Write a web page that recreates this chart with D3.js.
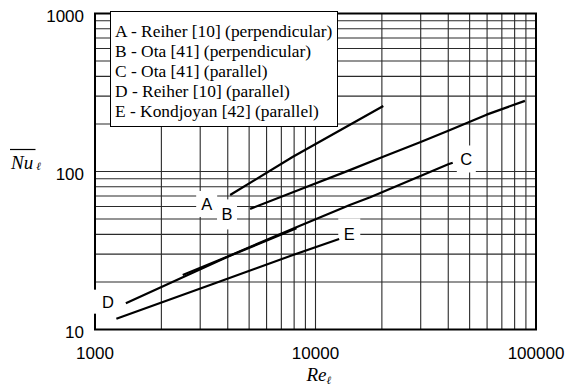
<!DOCTYPE html>
<html>
<head>
<meta charset="utf-8">
<script src="https://cdn.jsdelivr.net/npm/d3@7"></script>
<style>
  html, body { margin: 0; padding: 0; background: #fff; }
  svg { display: block; }
</style>
</head>
<body>
<svg id="chart" width="565" height="386"></svg>
<script>
// Mean Nusselt number versus Reynolds number, five correlations
const reA = [4100, 7900, 20300];
const nuA = [71, 124, 260];
const reB = [5050, 8500, 14300, 20000, 29800, 40000, 49800, 59700, 89100];
const nuB = [58, 77, 102, 123, 153, 181, 206, 229, 280];
const reC = [2500, 4000, 8500, 14300, 17700, 40000, 41900];
const nuC = [22.1, 29, 45.4, 61.4, 68.7, 111, 113.7];
const reD = [1380, 4000, 8200];
const nuD = [14.65, 28.9, 43.7];
const reE = [1250, 3500, 7900, 12800];
const nuE = [11.7, 19.6, 29.6, 37.4];

const curveKeys = ["A", "B", "C", "D", "E"];
const legendLabels = [
  "A - Reiher [10] (perpendicular)",
  "B - Ota [41] (perpendicular)",
  "C - Ota [41] (parallel)",
  "D - Reiher [10] (parallel)",
  "E - Kondjoyan [42] (parallel)"
];
// where each letter tag sits, in data units (Re, Nu)
const tagRe = [3210, 3970, 48300, 1145, 14230];
const tagNu = [62.3, 53.5, 120, 15.0, 40.0];

const xTicks = [1000, 10000, 100000];
const yTicks = [10, 100, 1000];

const series = [
  { re: reA, nu: nuA }, { re: reB, nu: nuB }, { re: reC, nu: nuC },
  { re: reD, nu: nuD }, { re: reE, nu: nuE }
];

const sansFont = "'Liberation Sans', Arimo, Arial, sans-serif";
const serifFont = "'Liberation Serif', Tinos, 'Times New Roman', serif";

const svg = d3.select("#chart");
const x = d3.scaleLog().domain([1000, 100000]).range([95, 536]);
const y = d3.scaleLog().domain([10, 1000]).range([329.5, 13.5]);

// log grid: every integer multiple inside each decade
const gridX = [], gridY = [];
for (let d = 1000; d < 100000; d *= 10) for (let k = 2; k <= 9; k++) gridX.push(d * k);
for (let d = 10; d < 1000; d *= 10) for (let k = 2; k <= 9; k++) gridY.push(d * k);
gridX.push(10000); gridY.push(100);

const grid = svg.append("g").attr("stroke", "#2a2a2a").attr("stroke-width", 1.1);
grid.selectAll("line.v").data(gridX).join("line")
  .attr("x1", d => x(d)).attr("x2", d => x(d))
  .attr("y1", y(10)).attr("y2", y(1000));
grid.selectAll("line.h").data(gridY).join("line")
  .attr("x1", x(1000)).attr("x2", x(100000))
  .attr("y1", d => y(d)).attr("y2", d => y(d));

// plot frame
svg.append("rect")
  .attr("x", x(1000)).attr("y", y(1000))
  .attr("width", x(100000) - x(1000)).attr("height", y(10) - y(1000))
  .attr("fill", "none").attr("stroke", "#000").attr("stroke-width", 2);

// letter tags on white patches
const tagBox = [[21, 26], [20, 30], [19, 27], [30, 24], [22, 32]];
const tags = svg.append("g");
curveKeys.forEach((k, i) => {
  const cx = x(tagRe[i]), cy = y(tagNu[i]);
  tags.append("rect")
    .attr("x", cx - tagBox[i][0] / 2).attr("y", cy - tagBox[i][1] / 2)
    .attr("width", tagBox[i][0]).attr("height", tagBox[i][1])
    .attr("fill", "#fff");
  tags.append("text")
    .attr("x", cx).attr("y", cy + 6)
    .attr("text-anchor", "middle")
    .style("font-family", sansFont)
    .attr("font-size", 16.5)
    .text(k);
});

// correlation curves
const line = d3.line().x(d => x(d[0])).y(d => y(d[1]));
svg.append("g").selectAll("path").data(series).join("path")
  .attr("d", s => line(s.re.map((r, i) => [r, s.nu[i]])))
  .attr("fill", "none").attr("stroke", "#000")
  .attr("stroke-width", 2.2).attr("stroke-linejoin", "round");

// legend
const lg = svg.append("g");
lg.append("rect")
  .attr("x", 110.5).attr("y", 11.5).attr("width", 227).attr("height", 115)
  .attr("fill", "#fff").attr("stroke", "#000").attr("stroke-width", 1);
lg.selectAll("text").data(legendLabels).join("text")
  .attr("x", 115).attr("y", (d, i) => 36.5 + i * 20.2)
  .style("font-family", serifFont)
  .attr("font-size", 17.4)
  .text(d => d);

// tick labels
svg.append("g").selectAll("text").data(xTicks).join("text")
  .attr("x", d => x(d)).attr("y", 359)
  .attr("text-anchor", "middle")
  .style("font-family", sansFont).attr("font-size", 17)
  .text(d => d);
svg.append("g").selectAll("text").data(yTicks).join("text")
  .attr("x", 84).attr("y", d => y(d) + 8.5)
  .attr("text-anchor", "end")
  .style("font-family", sansFont).attr("font-size", 17)
  .text(d => d);

// axis titles
const xt = svg.append("text")
  .attr("x", 306.5).attr("y", 381)
  .style("font-family", serifFont).attr("font-style", "italic").attr("font-size", 19);
xt.append("tspan").text("Re");
xt.append("tspan").attr("font-size", 11).attr("dy", 3).text("\u2113");

const yt = svg.append("text")
  .attr("x", 11).attr("y", 168.5)
  .style("font-family", serifFont).attr("font-style", "italic").attr("font-size", 19);
yt.append("tspan").text("Nu");
yt.append("tspan").attr("font-size", 11).attr("dx", 3).attr("dy", 1).text("\u2113");
svg.append("line")
  .attr("x1", 10).attr("x2", 35.5).attr("y1", 149.5).attr("y2", 149.5)
  .attr("stroke", "#000").attr("stroke-width", 1.2);
</script>
</body>
</html>
